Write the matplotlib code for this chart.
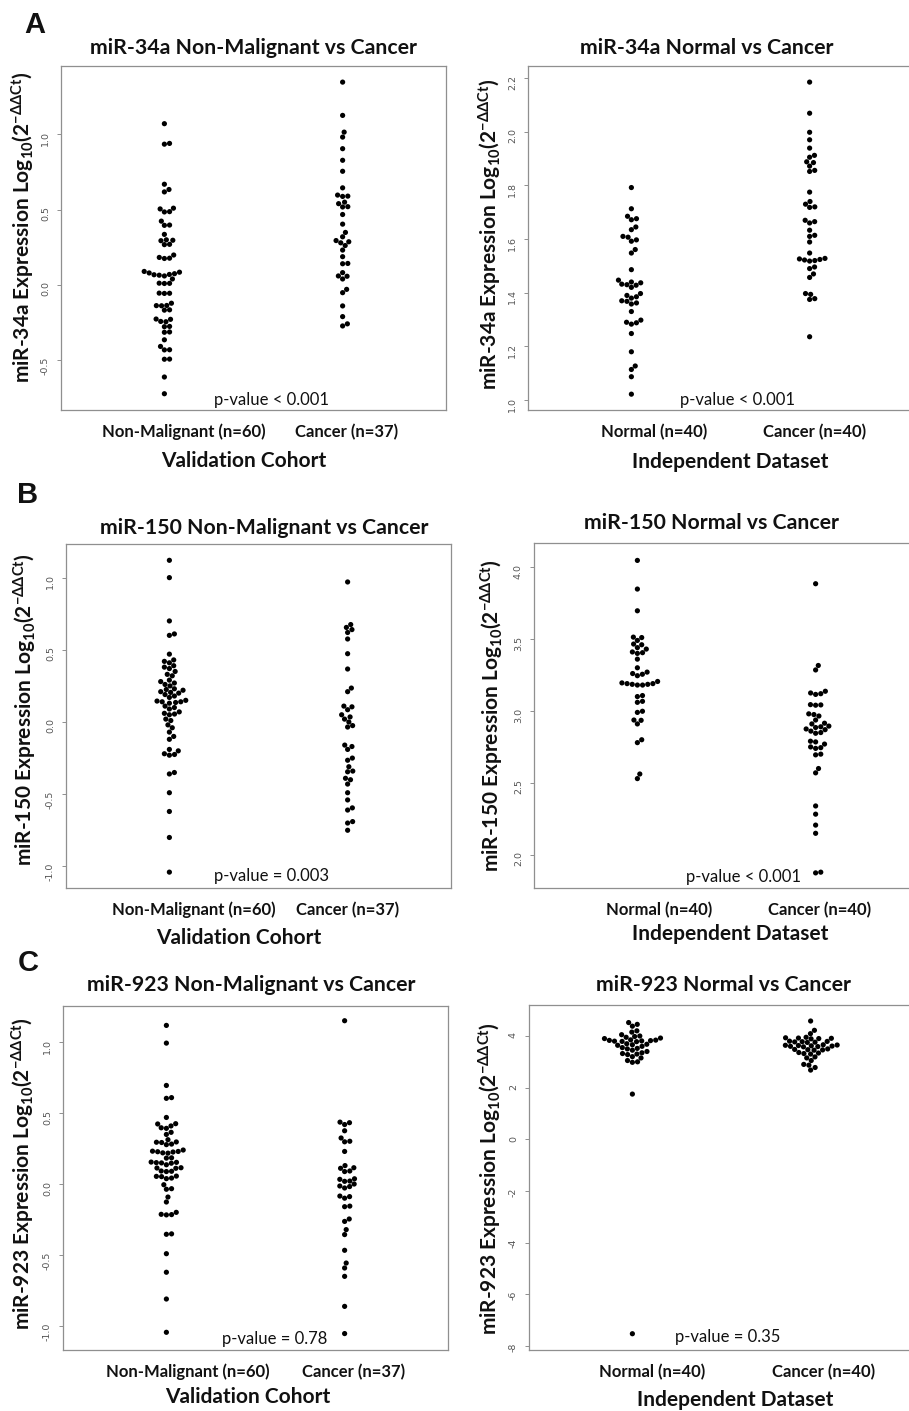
import matplotlib
matplotlib.use('Agg')
import matplotlib.pyplot as plt
import numpy as np

# ---------------- data ----------------
a_left_nonmal = [1.071, 0.94, 0.935, 0.669, 0.634, 0.618, 0.51, 0.505, 0.487, 0.485,
                 0.424, 0.398, 0.396, 0.336, 0.30, 0.297, 0.294, 0.27, 0.268, 0.199,
                 0.183, 0.178, 0.176, 0.09, 0.085, 0.08, 0.075, 0.07, 0.068, 0.065,
                 0.06, 0.04, 0.012, 0.011, 0.01, -0.054, -0.055, -0.056, -0.121, -0.136,
                 -0.137, -0.138, -0.165, -0.167, -0.226, -0.228, -0.242, -0.244, -0.275, -0.277,
                 -0.312, -0.314, -0.364, -0.408, -0.43, -0.431, -0.492, -0.493, -0.611, -0.722]
a_left_cancer = [1.347, 1.126, 1.015, 0.982, 0.905, 0.828, 0.755, 0.645, 0.597, 0.59,
                 0.588, 0.55, 0.54, 0.52, 0.518, 0.468, 0.404, 0.349, 0.32, 0.295,
                 0.287, 0.28, 0.262, 0.232, 0.188, 0.143, 0.141, 0.082, 0.06, 0.058,
                 0.04, -0.029, -0.051, -0.139, -0.21, -0.258, -0.272]
a_right_normal = [1.792, 1.713, 1.685, 1.676, 1.672, 1.645, 1.635, 1.61, 1.607, 1.597,
                  1.592, 1.561, 1.548, 1.486, 1.447, 1.44, 1.437, 1.432, 1.43, 1.428,
                  1.42, 1.397, 1.39, 1.385, 1.38, 1.37, 1.368, 1.362, 1.358, 1.33,
                  1.298, 1.29, 1.288, 1.283, 1.248, 1.18, 1.127, 1.114, 1.087, 1.022]
a_right_cancer = [2.185, 2.069, 1.998, 1.97, 1.939, 1.912, 1.905, 1.888, 1.885, 1.872,
                  1.856, 1.852, 1.775, 1.74, 1.73, 1.72, 1.718, 1.67, 1.665, 1.66,
                  1.633, 1.614, 1.61, 1.589, 1.548, 1.528, 1.526, 1.524, 1.522, 1.52,
                  1.518, 1.496, 1.49, 1.47, 1.457, 1.397, 1.394, 1.378, 1.375, 1.236]
b_left_nonmal = [1.12, 1.00, 0.70, 0.61, 0.60, 0.47, 0.43, 0.42, 0.41, 0.39,
                 0.38, 0.37, 0.35, 0.33, 0.32, 0.29, 0.28, 0.27, 0.26, 0.25,
                 0.23, 0.225, 0.22, 0.21, 0.205, 0.20, 0.19, 0.18, 0.17, 0.15,
                 0.145, 0.14, 0.135, 0.13, 0.14, 0.11, 0.10, 0.09, 0.07, 0.06,
                 0.055, 0.05, 0.02, 0.01, -0.02, -0.04, -0.07, -0.10, -0.12, -0.19,
                 -0.20, -0.22, -0.225, -0.23, -0.35, -0.36, -0.49, -0.62, -0.80, -1.04]
b_left_cancer = [0.97, 0.675, 0.655, 0.64, 0.62, 0.575, 0.473, 0.367, 0.235, 0.21,
                 0.11, 0.105, 0.085, 0.05, 0.035, 0.02, 0.0, -0.025, -0.035, -0.16,
                 -0.17, -0.19, -0.25, -0.265, -0.31, -0.34, -0.345, -0.39, -0.40, -0.43,
                 -0.49, -0.54, -0.595, -0.61, -0.69, -0.70, -0.75]
b_right_normal = [4.046, 3.847, 3.696, 3.513, 3.51, 3.49, 3.465, 3.46, 3.44, 3.43,
                  3.41, 3.405, 3.40, 3.36, 3.30, 3.27, 3.26, 3.255, 3.245, 3.205,
                  3.195, 3.19, 3.19, 3.185, 3.185, 3.18, 3.18, 3.107, 3.10, 3.067,
                  3.06, 2.998, 2.99, 2.937, 2.935, 2.91, 2.80, 2.78, 2.562, 2.53]
b_right_cancer = [3.884, 3.316, 3.285, 3.137, 3.125, 3.12, 3.115, 3.044, 3.042, 3.04,
                  2.98, 2.975, 2.965, 2.937, 2.915, 2.91, 2.895, 2.89, 2.885, 2.875,
                  2.87, 2.86, 2.85, 2.845, 2.79, 2.785, 2.77, 2.75, 2.745, 2.74,
                  2.70, 2.695, 2.60, 2.57, 2.34, 2.283, 2.207, 2.15, 1.88, 1.875]
c_left_nonmal = [1.12, 0.995, 0.696, 0.61, 0.605, 0.47, 0.426, 0.424, 0.41, 0.397,
                 0.393, 0.365, 0.35, 0.313, 0.297, 0.295, 0.293, 0.282, 0.278, 0.24,
                 0.232, 0.23, 0.228, 0.226, 0.22, 0.218, 0.185, 0.183, 0.155, 0.153,
                 0.151, 0.149, 0.147, 0.136, 0.115, 0.113, 0.111, 0.092, 0.09, 0.088,
                 0.056, 0.054, 0.052, 0.042, 0.038, -0.005, -0.033, -0.037, -0.092, -0.127,
                 -0.2, -0.214, -0.216, -0.218, -0.352, -0.355, -0.492, -0.623, -0.812, -1.047]
c_left_cancer = [1.153, 0.437, 0.433, 0.42, 0.376, 0.325, 0.302, 0.298, 0.23, 0.13,
                 0.115, 0.111, 0.092, 0.088, 0.037, 0.033, 0.021, 0.019, 0.0, -0.014,
                 -0.018, -0.028, -0.085, -0.089, -0.1, -0.156, -0.16, -0.247, -0.264, -0.322,
                 -0.357, -0.468, -0.558, -0.593, -0.652, -0.864, -1.056]
c_right_normal = [4.52, 4.45, 4.38, 4.2, 4.15, 4.05, 4.0, 3.98, 3.95, 3.92,
                  3.9, 3.85, 3.84, 3.83, 3.82, 3.81, 3.8, 3.79, 3.78, 3.7,
                  3.68, 3.66, 3.64, 3.6, 3.55, 3.52, 3.5, 3.45, 3.4, 3.35,
                  3.32, 3.3, 3.28, 3.2, 3.15, 3.05, 3.0, 2.98, 1.75, -7.53]
c_right_cancer = [4.58, 4.22, 4.09, 3.95, 3.93, 3.92, 3.91, 3.90, 3.89, 3.80,
                  3.79, 3.78, 3.77, 3.76, 3.75, 3.66, 3.65, 3.64, 3.63, 3.62,
                  3.61, 3.60, 3.59, 3.58, 3.50, 3.48, 3.47, 3.46, 3.45, 3.36,
                  3.34, 3.32, 3.30, 3.19, 3.15, 3.05, 2.9, 2.87, 2.78, 2.68]

left_groups = ["Non-Malignant (n=60)", "Cancer (n=37)"]
right_groups = ["Normal (n=40)", "Cancer (n=40)"]
titles = ["miR-34a Non-Malignant vs Cancer", "miR-34a Normal vs Cancer",
          "miR-150 Non-Malignant vs Cancer", "miR-150 Normal vs Cancer",
          "miR-923 Non-Malignant vs Cancer", "miR-923 Normal vs Cancer"]
mirs = ["miR-34a", "miR-34a", "miR-150", "miR-150", "miR-923", "miR-923"]
pvalues = ["p-value < 0.001", "p-value < 0.001", "p-value = 0.003",
           "p-value < 0.001", "p-value = 0.78", "p-value = 0.35"]
xlabels = ["Validation Cohort", "Independent Dataset"] * 3
yticks = [[-0.5, 0.0, 0.5, 1.0],
          [1.0, 1.2, 1.4, 1.6, 1.8, 2.0, 2.2],
          [-1.0, -0.5, 0.0, 0.5, 1.0],
          [2.0, 2.5, 3.0, 3.5, 4.0],
          [-1.0, -0.5, 0.0, 0.5, 1.0],
          [-8, -6, -4, -2, 0, 2, 4]]
ytick_labels = [["-0.5", "0.0", "0.5", "1.0"],
                ["1.0", "1.2", "1.4", "1.6", "1.8", "2.0", "2.2"],
                ["-1.0", "-0.5", "0.0", "0.5", "1.0"],
                ["2.0", "2.5", "3.0", "3.5", "4.0"],
                ["-1.0", "-0.5", "0.0", "0.5", "1.0"],
                ["-8", "-6", "-4", "-2", "0", "2", "4"]]
series = [(a_left_nonmal, a_left_cancer), (a_right_normal, a_right_cancer),
          (b_left_nonmal, b_left_cancer), (b_right_normal, b_right_cancer),
          (c_left_nonmal, c_left_cancer), (c_right_normal, c_right_cancer)]

# ---------------- layout (pixels) ----------------
W, H, DPI = 909, 1411, 100
plt.rcParams['font.family'] = ['Lato', 'DejaVu Sans']
plt.rcParams['mathtext.fontset'] = 'custom'
plt.rcParams['mathtext.rm'] = 'Lato:bold'
plt.rcParams['mathtext.it'] = 'Lato:bold:italic'
plt.rcParams['mathtext.bf'] = 'Lato:bold'

fig = plt.figure(figsize=(W / DPI, H / DPI), dpi=DPI)

# axes boxes: x0, y0(top), x1, y1(bottom)
boxes = [(61, 66, 446, 410), (528, 66, 913, 410),
         (66, 544, 451, 888), (534, 543, 919, 888),
         (63, 1006, 448, 1350), (529, 1005, 914, 1350)]
ylims = [(-0.83, 1.454), (0.963, 2.245), (-1.15, 1.233),
         (1.77, 4.167), (-1.172, 1.257), (-8.16, 5.2)]
xtick_pos = [(1.11, 2.02), (1.13, 2.03), (1.135, 2.0),
             (1.12, 2.02), (1.12, 2.05), (1.11, 2.07)]
title_xy = [(253, 48), (707, 48), (264, 528), (712, 523), (251, 985), (723, 985)]
p_xy = [(272, 400), (738, 400), (271, 876), (743, 877), (275, 1339), (728, 1337)]
xlab_xy = [(244, 461), (730, 462), (239, 938), (730, 934), (248, 1397), (735, 1400)]
ylab_xy = [(23, 227), (490, 234), (25, 710), (492, 716), (23, 1174), (490, 1179)]
letters = [("A", 35, 25), ("B", 28, 495), ("C", 28, 963)]


def fx(x):
    return x / W


def fy(y):
    return 1 - y / H


def swarm(ax, xpos, vals, d=5.2):
    vals = np.asarray(vals, dtype=float)
    pts = ax.transData.transform(np.column_stack([np.full(len(vals), xpos), vals]))
    ys = pts[:, 1]
    x0 = pts[0, 0]
    order = np.argsort(ys, kind='stable')
    placed = []
    offs = np.zeros(len(vals))
    for i in order:
        y = ys[i]
        near = [(px, py) for (px, py) in placed if abs(py - y) < d]
        cands = [0.0]
        for px, py in near:
            dx = np.sqrt(d * d - (py - y) ** 2)
            cands += [px + dx, px - dx]
        cands.sort(key=lambda c: (round(abs(c), 6), -c))
        for c in cands:
            if all((c - px) ** 2 + (y - py) ** 2 >= d * d - 1e-6 for px, py in near):
                offs[i] = c
                placed.append((c, y))
                break
    disp = np.column_stack([x0 + offs, ys])
    return ax.transData.inverted().transform(disp)


for k in range(6):
    x0, y0, x1, y1 = boxes[k]
    ax = fig.add_axes([fx(x0), fy(y1), (x1 - x0) / W, (y1 - y0) / H])
    ax.set_xlim(0.42, 2.58)
    ax.set_ylim(*ylims[k])
    for s in ax.spines.values():
        s.set_color('#8f8f8f')
        s.set_linewidth(0.9)
    ax.set_yticks(yticks[k])
    ax.set_yticklabels(ytick_labels[k], fontsize=6.8, color='#555555',
                       family=['DejaVu Sans'])
    ax.tick_params(axis='y', direction='out', length=3, width=0.7,
                   color='#8f8f8f', labelrotation=90, pad=5)
    groups = left_groups if k % 2 == 0 else right_groups
    ax.set_xticks(xtick_pos[k])
    ax.set_xticklabels(groups, fontsize=12, color='#111111', weight='bold')
    ax.tick_params(axis='x', length=0, pad=10)
    for gi, vals in enumerate(series[k]):
        xy = swarm(ax, gi + 1, vals)
        ax.scatter(xy[:, 0], xy[:, 1], s=14, color='black', edgecolors='none',
                   zorder=3, clip_on=False)
    fig.text(fx(title_xy[k][0]), fy(title_xy[k][1]), titles[k], ha='center',
             va='center', fontsize=15.3, weight='bold', color='#111111')
    fig.text(fx(p_xy[k][0]), fy(p_xy[k][1]), pvalues[k], ha='center',
             va='center', fontsize=12, color='#111111')
    fig.text(fx(xlab_xy[k][0]), fy(xlab_xy[k][1]), xlabels[k], ha='center',
             va='center', fontsize=15, weight='bold', color='#111111')
    ylab = mirs[k] + r" Expression Log$_{10}$(2$^{-\mathrm{\Delta\Delta Ct}}$)"
    fig.text(fx(ylab_xy[k][0]), fy(ylab_xy[k][1]), ylab, ha='center',
             va='center', rotation=90, fontsize=15, weight='bold', color='#111111')

for letter, lx, ly in letters:
    fig.text(fx(lx), fy(ly), letter, ha='center', va='center', fontsize=21,
             weight='bold', family=['Liberation Sans', 'DejaVu Sans'], color='#111111')

fig.savefig('out.png', dpi=DPI)
